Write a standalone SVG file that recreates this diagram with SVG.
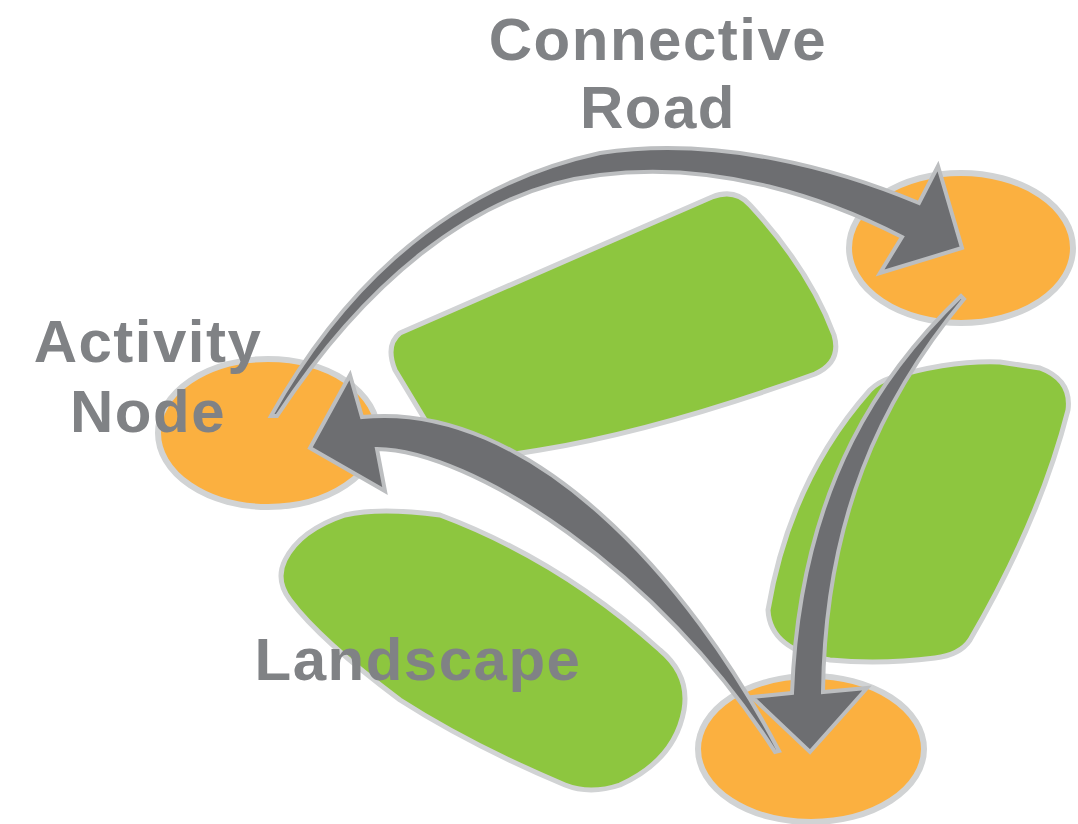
<svg xmlns="http://www.w3.org/2000/svg" width="1078" height="824" viewBox="0 0 1078 824">
<style>
.land{fill:#8DC63F;stroke:#D1D3D4;stroke-width:5;stroke-linejoin:round}
.node{fill:#FBB040;stroke:#D1D3D4;stroke-width:6}
.road{fill:#6D6E71;stroke:#BCBEC0;stroke-width:4;stroke-linejoin:miter;stroke-miterlimit:10}
.lbl{font-family:"Liberation Sans",Arial,sans-serif;font-weight:bold;font-size:60px;fill:#808285;text-anchor:middle;letter-spacing:1.5px}
</style>
<rect width="1078" height="824" fill="#FFFFFF"/>
<g id="landscape-top">
<path class="land" d="M400,333 L712,197 Q735,188 750,205 Q810,270 834,335 Q842,362 815,374 Q660,430 540,450 L490,458 L430,428 L395,370 Q385,345 400,333 Z"/>
</g>
<g id="landscape-right">
<path class="land" d="M890,378 Q950,360 1000,362 L1040,368 Q1072,380 1068,410 Q1040,520 970,640 Q960,655 935,658 Q880,665 830,660 Q770,650 768,610 Q790,480 870,390 Q878,382 890,378 Z"/>
</g>
<g id="landscape">
<path class="land" d="M290,600 Q275,580 285,560 Q300,530 345,515 Q380,507 440,515 Q560,560 660,650 Q690,675 684,710 Q675,760 620,785 Q590,795 565,785 Q470,745 400,700 Q320,640 290,600 Z"/>
</g>
<g id="activity-node">
<ellipse class="node" cx="268" cy="433" rx="110" ry="74"/>
</g>
<g id="node-top-right">
<ellipse class="node" cx="961" cy="248" rx="112" ry="75"/>
</g>
<g id="node-bottom">
<ellipse class="node" cx="811" cy="749" rx="113" ry="73"/>
</g>
<g id="connectors">
<path class="road" d="M271,416 C330,310 430,190 600,153 C720,135 840,170 919,203 L938,166 L962,248 L880,273 L902,237 C830,200 720,160 600,175 C470,190 360,290 277,416 Z"/>
<path class="road" d="M961,296 C888,366 800,480 792,693 L752,697 L810,752 L867,688 L823,692 C825,520 880,400 964,299 Z"/>
<path class="road" d="M779,751 C690,580 530,400 362,417 L350,375 L310,448 L385,491 L377,449 C470,450 660,570 775,752 Z"/>
</g>
<g id="labels">
<text class="lbl" x="658" y="60">Connective</text>
<text class="lbl" x="658" y="128">Road</text>
<text class="lbl" x="148" y="362">Activity</text>
<text class="lbl" x="148" y="432">Node</text>
<text class="lbl" x="418" y="680">Landscape</text>
</g>
</svg>
